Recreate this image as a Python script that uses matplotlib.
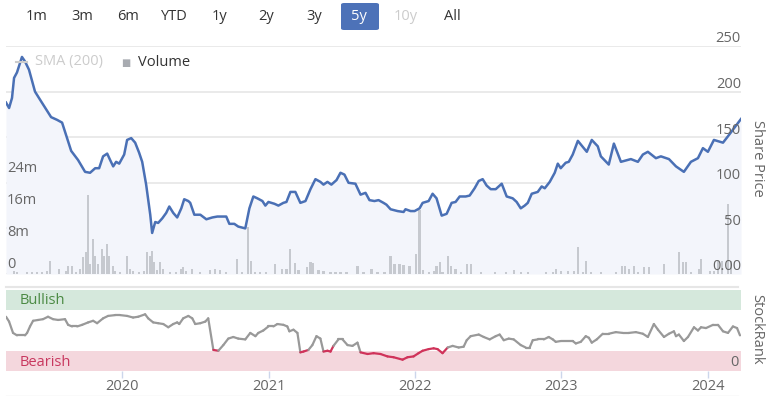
import matplotlib
matplotlib.use("Agg")
import matplotlib.pyplot as plt
import matplotlib.transforms as mtransforms
from matplotlib.patches import FancyBboxPatch
from matplotlib.collections import LineCollection
from matplotlib.lines import Line2D
import numpy as np

plt.rcParams['font.family'] = ['Open Sans', 'DejaVu Sans']

# share price (decimal year, price)
price_t = [2019.207, 2019.228, 2019.248, 2019.262, 2019.282, 2019.316, 2019.337, 2019.364, 2019.405, 2019.440,
           2019.515, 2019.556, 2019.590, 2019.610, 2019.652, 2019.699, 2019.747, 2019.781, 2019.816, 2019.843,
           2019.870, 2019.898, 2019.918, 2019.939, 2019.959, 2019.980, 2020.014, 2020.034, 2020.062, 2020.089,
           2020.116, 2020.137, 2020.164, 2020.192, 2020.205, 2020.226, 2020.246, 2020.274, 2020.301, 2020.322,
           2020.349, 2020.376, 2020.404, 2020.424, 2020.452, 2020.465, 2020.493, 2020.534, 2020.575, 2020.616,
           2020.650, 2020.684, 2020.711, 2020.732, 2020.766, 2020.793, 2020.841, 2020.869, 2020.896, 2020.923,
           2020.958, 2020.978, 2020.999, 2021.040, 2021.067, 2021.101, 2021.122, 2021.149, 2021.183, 2021.217,
           2021.252, 2021.286, 2021.320, 2021.354, 2021.375, 2021.402, 2021.429, 2021.464, 2021.491, 2021.518,
           2021.546, 2021.593, 2021.628, 2021.662, 2021.689, 2021.723, 2021.751, 2021.785, 2021.805, 2021.833,
           2021.881, 2021.922, 2021.935, 2021.970, 2021.997, 2022.031, 2022.052, 2022.093, 2022.120, 2022.147,
           2022.182, 2022.216, 2022.250, 2022.277, 2022.305, 2022.346, 2022.373, 2022.407, 2022.435, 2022.462,
           2022.489, 2022.517, 2022.551, 2022.571, 2022.592, 2022.626, 2022.667, 2022.694, 2022.722, 2022.749,
           2022.770, 2022.797, 2022.838, 2022.865, 2022.886, 2022.920, 2022.954, 2022.975, 2022.995, 2023.029,
           2023.050, 2023.077, 2023.112, 2023.153, 2023.173, 2023.207, 2023.248, 2023.269, 2023.323, 2023.358,
           2023.406, 2023.474, 2023.522, 2023.556, 2023.590, 2023.645, 2023.679, 2023.734, 2023.782, 2023.836,
           2023.884, 2023.932, 2023.966, 2024.000, 2024.041, 2024.103, 2024.137, 2024.226]
price = [188, 182, 193, 215, 221, 238, 233, 224, 200, 191,
         172, 169, 166, 156, 135, 125, 112, 111, 116, 116,
         129, 132, 125, 118, 123, 121, 131, 147, 149, 144,
         133, 123, 98, 65, 45, 57, 56, 61, 67, 74,
         67, 62, 72, 82, 80, 78, 65, 65, 60, 62,
         63, 63, 63, 55, 55, 52, 50, 72, 85, 83,
         80, 75, 79, 77, 75, 78, 79, 90, 90, 78,
         80, 93, 104, 101, 98, 101, 98, 103, 111, 109,
         100, 99, 87, 89, 81, 80, 81, 78, 76, 71,
         69, 68, 71, 69, 69, 72, 78, 80, 88, 83,
         64, 66, 78, 79, 85, 85, 86, 94, 102, 104,
         97, 93, 93, 96, 99, 85, 83, 79, 72, 75,
         78, 88, 90, 96, 94, 101, 111, 121, 116, 122,
         123, 131, 146, 138, 134, 147, 140, 129, 120, 143,
         123, 126, 123, 131, 134, 127, 129, 126, 118, 112,
         123, 127, 138, 134, 147, 144, 151, 170]

# volume (decimal year, millions)
vol_t = [2019.262, 2019.282, 2019.351, 2019.385, 2019.419, 2019.453, 2019.487, 2019.508, 2019.569, 2019.617,
         2019.631, 2019.658, 2019.686, 2019.713, 2019.734, 2019.754, 2019.768, 2019.781, 2019.802, 2019.816,
         2019.836, 2019.863, 2019.877, 2019.898, 2019.911, 2019.939, 2019.952, 2019.987, 2020.034, 2020.055,
         2020.075, 2020.116, 2020.151, 2020.171, 2020.192, 2020.205, 2020.219, 2020.240, 2020.260, 2020.281,
         2020.328, 2020.370, 2020.404, 2020.417, 2020.438, 2020.479, 2020.534, 2020.602, 2020.636, 2020.670,
         2020.711, 2020.787, 2020.821, 2020.862, 2020.882, 2020.910, 2020.944, 2020.985, 2021.046, 2021.094,
         2021.122, 2021.149, 2021.183, 2021.204, 2021.265, 2021.286, 2021.306, 2021.341, 2021.375, 2021.423,
         2021.457, 2021.491, 2021.532, 2021.607, 2021.648, 2021.703, 2021.744, 2021.792, 2021.833, 2021.860,
         2021.894, 2021.922, 2021.963, 2022.004, 2022.031, 2022.052, 2022.093, 2022.127, 2022.147, 2022.168,
         2022.188, 2022.223, 2022.243, 2022.277, 2022.312, 2022.353, 2022.380, 2022.448, 2022.544, 2022.619,
         2022.674, 2022.722, 2022.770, 2022.893, 2022.941, 2022.961, 2022.995, 2023.043, 2023.084, 2023.112,
         2023.146, 2023.166, 2023.200, 2023.269, 2023.371, 2023.412, 2023.433, 2023.460, 2023.494, 2023.522,
         2023.563, 2023.597, 2023.700, 2023.802, 2023.829, 2023.850, 2023.884, 2023.939, 2023.953, 2024.014,
         2024.041, 2024.069, 2024.096, 2024.137, 2024.158]
volume = [0.8, 0.6, 0.5, 0.5, 0.5, 0.6, 0.7, 3.2, 1.2, 0.8,
          2.0, 2.0, 0.5, 1.2, 4.2, 5.4, 19.7, 2.5, 8.7, 4.5,
          2.4, 6.2, 4.5, 7.5, 4.5, 2.0, 0.8, 0.6, 4.5, 1.2,
          0.8, 0.6, 0.8, 5.4, 4.5, 5.8, 3.0, 1.0, 3.0, 1.2,
          0.5, 0.5, 1.2, 1.7, 0.8, 1.2, 0.5, 1.0, 1.2, 1.0,
          0.6, 3.7, 0.5, 11.7, 3.3, 0.5, 0.6, 0.5, 2.5, 1.2,
          1.2, 6.2, 2.7, 1.0, 1.7, 3.0, 2.8, 1.0, 0.8, 0.6,
          0.6, 0.6, 0.6, 2.0, 0.5, 1.2, 0.5, 0.5, 4.4, 2.5,
          2.5, 2.2, 2.0, 5.0, 16.0, 1.0, 0.6, 0.8, 2.0, 2.9,
          0.6, 4.6, 2.0, 1.2, 0.6, 2.5, 2.5, 0.6, 0.5, 0.6,
          1.0, 0.6, 0.5, 0.5, 0.6, 1.2, 0.8, 0.8, 0.8, 6.7,
          0.6, 3.3, 0.5, 0.5, 0.5, 2.1, 2.1, 1.2, 2.0, 0.5,
          1.7, 1.7, 2.5, 5.4, 2.9, 2.9, 0.5, 1.2, 3.7, 0.8,
          0.8, 3.3, 3.3, 17.5, 3.3]

# StockRank (decimal year, rank 0-100)
rank_t = [2019.207, 2019.228, 2019.255, 2019.282, 2019.337, 2019.351, 2019.371, 2019.392, 2019.426, 2019.460,
          2019.494, 2019.528, 2019.563, 2019.610, 2019.631, 2019.658, 2019.693, 2019.727, 2019.768, 2019.802,
          2019.829, 2019.870, 2019.904, 2019.952, 2019.987, 2020.034, 2020.075, 2020.110, 2020.157, 2020.178,
          2020.212, 2020.246, 2020.281, 2020.315, 2020.349, 2020.376, 2020.390, 2020.417, 2020.452, 2020.479,
          2020.499, 2020.534, 2020.568, 2020.588, 2020.623, 2020.657, 2020.691, 2020.725, 2020.759, 2020.793,
          2020.841, 2020.875, 2020.910, 2020.930, 2020.964, 2020.999, 2021.033, 2021.060, 2021.101, 2021.128,
          2021.142, 2021.170, 2021.197, 2021.217, 2021.238, 2021.272, 2021.299, 2021.327, 2021.354, 2021.375,
          2021.402, 2021.423, 2021.443, 2021.477, 2021.505, 2021.539, 2021.573, 2021.607, 2021.628, 2021.676,
          2021.717, 2021.764, 2021.812, 2021.853, 2021.915, 2021.949, 2021.990, 2022.024, 2022.052, 2022.093,
          2022.127, 2022.154, 2022.188, 2022.223, 2022.257, 2022.298, 2022.332, 2022.353, 2022.380, 2022.435,
          2022.469, 2022.510, 2022.551, 2022.578, 2022.606, 2022.640, 2022.674, 2022.722, 2022.756, 2022.783,
          2022.804, 2022.838, 2022.879, 2022.913, 2022.941, 2022.961, 2022.995, 2023.077, 2023.098, 2023.132,
          2023.166, 2023.187, 2023.207, 2023.241, 2023.282, 2023.323, 2023.371, 2023.419, 2023.460, 2023.508,
          2023.556, 2023.590, 2023.631, 2023.659, 2023.700, 2023.734, 2023.768, 2023.782, 2023.802, 2023.836,
          2023.864, 2023.905, 2023.932, 2023.953, 2023.987, 2024.035, 2024.069, 2024.103, 2024.137, 2024.171,
          2024.199, 2024.219]
rank = [67, 61, 47, 44, 44, 47, 55, 62, 63, 64,
        67, 64, 63, 64, 57, 55, 55, 57, 60, 62,
        59, 65, 68, 69, 69, 68, 66, 67, 70, 65,
        60, 59, 58, 54, 58, 60, 58, 65, 68, 65,
        58, 59, 61, 65, 26, 25, 32, 40, 42, 40,
        39, 47, 43, 47, 50, 55, 55, 58, 57, 55,
        49, 51, 47, 23, 24, 26, 32, 43, 40, 24,
        25, 24, 31, 39, 39, 32, 31, 35, 23, 21,
        22, 21, 18, 17, 14, 17, 18, 22, 25, 27,
        28, 27, 22, 29, 31, 29, 30, 38, 43, 45,
        42, 39, 43, 45, 38, 40, 39, 32, 29, 29,
        38, 39, 39, 42, 39, 36, 37, 37, 34, 36,
        43, 41, 35, 39, 46, 46, 48, 47, 47, 48,
        46, 42, 58, 51, 42, 46, 49, 43, 45, 37,
        42, 54, 50, 54, 53, 57, 57, 49, 47, 55,
        53, 44]

years = [2020, 2021, 2022, 2023, 2024]
price_ticks = [0, 50, 100, 150, 200, 250]
price_labels = ['0.00', '50', '100', '150', '200', '250']
vol_ticks = [0, 8, 16, 24]
vol_labels = ['0', '8m', '16m', '24m']
buttons = ['1m', '3m', '6m', 'YTD', '1y', '2y', '3y', '5y', '10y', 'All']
button_x = [37, 82, 128, 174, 220, 266, 314, 359, 406, 452]

W, H = 767, 396
def fx(px):
    return px / W
def fy(py):
    return 1 - py / H

BLUE = '#4a70b5'
GRID = '#e6e6e6'
LABEL = '#666666'
FS = 10.5
XMIN, XMAX = 2019.207, 2024.226

fig = plt.figure(figsize=(W / 100, H / 100), dpi=100)

# main panel: fill layer, volume layer, price line layer
rect = [fx(6), fy(274), fx(741) - fx(6), (274 - 46) / H]
ax = fig.add_axes(rect)
axv = ax.twinx()
axp = ax.twinx()
for a in (ax, axv, axp):
    a.set_xlim(XMIN, XMAX)
    a.axis('off')
ax.set_ylim(0, 250)
axp.set_ylim(0, 250)
axv.set_ylim(0, 57)

for v in price_ticks:
    ax.axhline(v, color=GRID, lw=1.2, zorder=0)
ax.fill_between(price_t, price, 0, color='#f3f5fb', lw=0, zorder=1)
axv.bar(vol_t, volume, width=0.015, color='#c6c9cf', lw=0)
axp.plot(price_t, price, color=BLUE, lw=1.8, solid_joinstyle='round')

# axis labels drawn as text a bit above their grid lines
tr_p = mtransforms.offset_copy(mtransforms.blended_transform_factory(fig.transFigure, axp.transData),
                               fig=fig, x=0, y=7, units='dots')
for v, s in zip(price_ticks, price_labels):
    fig.text(fx(741), v, s, transform=tr_p, ha='right', va='center', fontsize=FS, color=LABEL, zorder=5)
tr_v = mtransforms.offset_copy(mtransforms.blended_transform_factory(fig.transFigure, axv.transData),
                               fig=fig, x=0, y=9, units='dots')
for v, s in zip(vol_ticks, vol_labels):
    fig.text(fx(7), v, s, transform=tr_v, ha='left', va='center', fontsize=FS, color=LABEL)
fig.text(fx(757), fy(158), 'Share Price', rotation=-90, ha='center', va='center', fontsize=FS, color=LABEL)

# legend
fig.add_artist(Line2D([fx(16), fx(27)], [fy(62), fy(62)], color='#cccccc', lw=1.5))
fig.text(fx(35), fy(62), 'SMA (200)', ha='left', va='center', fontsize=FS, color='#cccccc')
fig.text(fx(125.5), fy(63.5), '\u25a0', ha='center', va='center', fontsize=7, color='#a8abb1')
fig.text(fx(138), fy(62), 'Volume', ha='left', va='center', fontsize=FS, color='#333333')

# range selector
fig.add_artist(FancyBboxPatch((fx(341), fy(30)), fx(38), 27 / H,
                              boxstyle='round,pad=0,rounding_size=0.004', fc='#4d72b8', ec='none'))
for lab, bx in zip(buttons, button_x):
    col = '#333333'
    if lab == '5y':
        col = 'white'
    elif lab == '10y':
        col = '#cccccc'
    fig.text(fx(bx), fy(17), lab, ha='center', va='center', fontsize=FS, color=col)

# StockRank panel
axr = fig.add_axes([fx(6), fy(371), fx(741) - fx(6), 81 / H])
axr.set_xlim(XMIN, XMAX)
axr.set_ylim(0, 100)
for s in axr.spines.values():
    s.set_visible(False)
axr.axhspan(75, 100, color='#d5e8dc', lw=0)
axr.axhspan(0, 25, color='#f4d7dd', lw=0)
rt = np.array(rank_t)
rv = np.array(rank, dtype=float)
segs = np.stack([np.column_stack([rt[:-1], rv[:-1]]), np.column_stack([rt[1:], rv[1:]])], axis=1)
seg_col = ['#d0335a' if (a + b) / 2 < 28.5 else '#999999' for a, b in zip(rv[:-1], rv[1:])]
axr.add_collection(LineCollection(segs, colors=seg_col, linewidths=1.6, capstyle='round', joinstyle='round'))
axr.set_yticks([])
axr.set_xticks(years)
axr.set_xticklabels([str(y) for y in years])
axr.tick_params(axis='x', direction='out', length=5, width=1, color='#ccd6eb', pad=1,
                labelsize=FS, labelcolor=LABEL)
axr.text(0.018, 87.5, 'Bullish', ha='left', va='center', fontsize=FS, color='#4b8a43', transform=axr.get_yaxis_transform())
axr.text(0.018, 11, 'Bearish', ha='left', va='center', fontsize=FS, color='#c8385f', transform=axr.get_yaxis_transform())
fig.text(fx(739), fy(362), '0', ha='right', va='center', fontsize=FS, color=LABEL)
fig.text(fx(757), fy(329), 'StockRank', rotation=-90, ha='center', va='center', fontsize=FS, color=LABEL)

# separator lines
fig.add_artist(Line2D([fx(6), fx(738)], [fy(287), fy(287)], color=GRID, lw=1.5))
fig.add_artist(Line2D([fx(6), fx(738)], [fy(395.5), fy(395.5)], color=GRID, lw=1.0))

fig.savefig('out.png', dpi=100)
